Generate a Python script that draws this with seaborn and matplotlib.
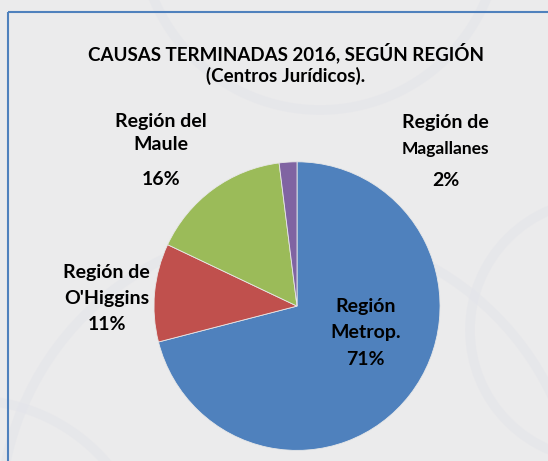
import numpy as np
import matplotlib
matplotlib.use("Agg")
import matplotlib.pyplot as plt
import matplotlib.patches as mpatches
import seaborn as sns

# data
name_line1 = ["Región", "Región de", "Región del", "Región de"]
name_line2 = ["Metrop.", "O'Higgins", "Maule", "Magallanes"]
shares = [71, 11, 16, 2]
colors = ["#4F81BD", "#C0504D", "#9BBB59", "#8064A2"]
title = "CAUSAS TERMINADAS 2016, SEGÚN REGIÓN\n(Centros Jurídicos)."

sns.set_theme(style="white")
plt.rcParams['font.family'] = ['Lato', 'DejaVu Sans']

fig = plt.figure(figsize=(5.48, 4.61), dpi=100)
fig.patch.set_facecolor("#ebebec")

# faint background arcs
bg = fig.add_axes([0, 0, 1, 1])
bg.set_xlim(0, 548)
bg.set_ylim(461, 0)
bg.axis("off")
for cx, cy, r in [(320, -70, 180), (-30, 580, 180), (600, 330, 130), (290, 520, 290)]:
    bg.add_patch(mpatches.Circle((cx, cy), r, fill=False, lw=7, ec="#e4e5ea", alpha=0.6))
bg.add_patch(mpatches.Rectangle((8, 12), 560, 470, fill=False, lw=1.5, ec="#4F81BD"))

# pie
ax = fig.add_axes([0.281, 0.023, 0.522, 0.626])
ax.pie(shares, colors=colors, startangle=90, counterclock=False,
       wedgeprops=dict(linewidth=0.6, edgecolor="#e8e8e8"))
ax.set_xlim(-1, 1)
ax.set_ylim(-1, 1)
ax.set_aspect("auto")

# label positions (relative to pie, radius units)
label_x = [0.48, -1.33, -0.95, 1.04]
line1_y = [0.0, 0.23, 1.28, 1.27]
line2_y = [-0.18, 0.05, 1.12, 1.09]
pct_y = [-0.37, -0.13, 0.88, 0.87]
line2_size = [14, 14, 14, 12.5]
for i in range(len(shares)):
    ax.text(label_x[i], line1_y[i], name_line1[i], ha="center", va="center", fontsize=14,
            fontweight="bold", clip_on=False, color="black")
    ax.text(label_x[i], line2_y[i], name_line2[i], ha="center", va="center",
            fontsize=line2_size[i], fontweight="bold", clip_on=False, color="black")
    ax.text(label_x[i], pct_y[i], f"{shares[i]}%", ha="center", va="center", fontsize=14,
            fontweight="bold", clip_on=False, color="black")

fig.text(0.522, 0.862, title, ha="center", va="center", fontsize=13.5, fontweight="bold",
         linespacing=1.25, color="black")

plt.savefig("out.png", dpi=100, facecolor=fig.get_facecolor())
